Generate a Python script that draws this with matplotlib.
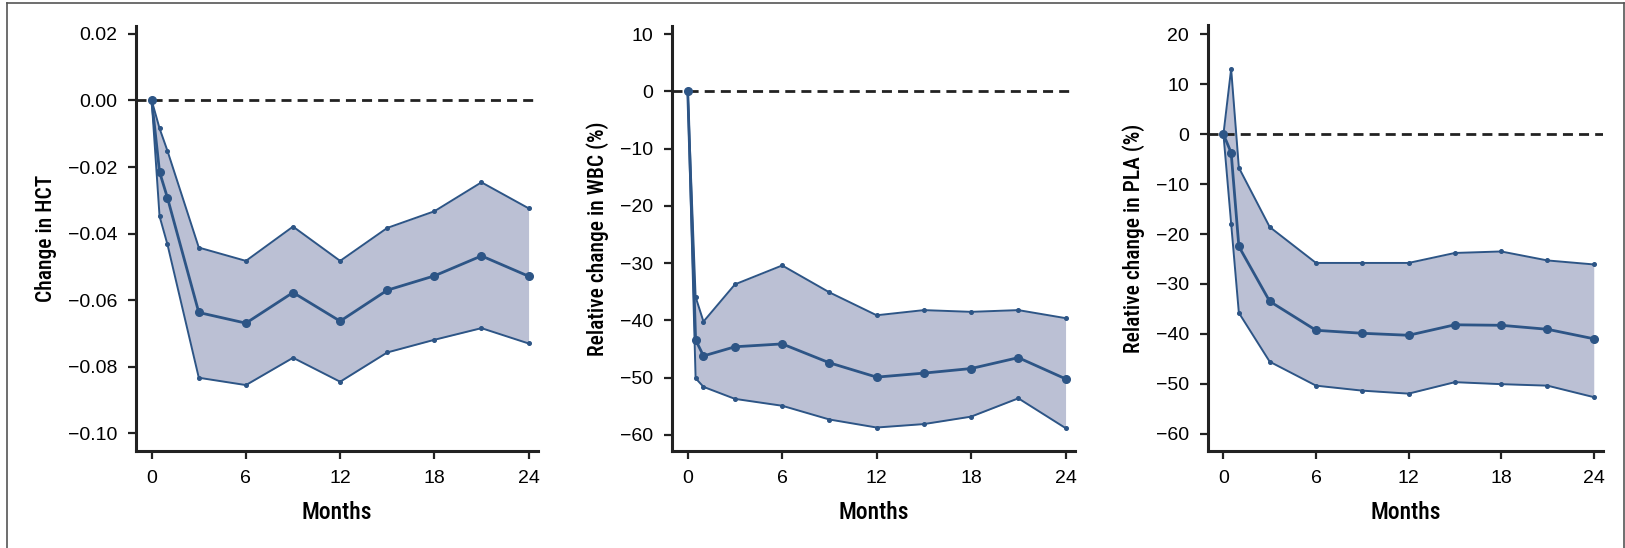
import numpy as np
import matplotlib.pyplot as plt
from matplotlib.lines import Line2D
from matplotlib import font_manager

# 时间点（月）
months = [0, 0.5, 1, 3, 6, 9, 12, 15, 18, 21, 24]

# HCT 变化
hct_mean = [0, -0.0215, -0.0292, -0.0637, -0.0669, -0.0577, -0.0663, -0.0570, -0.0527, -0.0467, -0.0528]
hct_upper = [0, -0.0084, -0.0151, -0.0442, -0.0482, -0.0379, -0.0482, -0.0383, -0.0333, -0.0246, -0.0324]
hct_lower = [0, -0.0348, -0.0432, -0.0833, -0.0855, -0.0773, -0.0845, -0.0757, -0.0719, -0.0684, -0.0730]

# WBC 相对变化 (%)
wbc_mean = [0, -43.4, -46.2, -44.6, -44.1, -47.4, -49.9, -49.2, -48.4, -46.5, -50.2]
wbc_upper = [0, -35.9, -40.2, -33.7, -30.4, -35.1, -39.1, -38.2, -38.5, -38.2, -39.6]
wbc_lower = [0, -50.1, -51.6, -53.7, -54.9, -57.3, -58.7, -58.1, -56.8, -53.6, -58.8]

# PLA 相对变化 (%)
pla_mean = [0, -3.7, -22.5, -33.5, -39.3, -39.9, -40.3, -38.2, -38.3, -39.1, -41.0]
pla_upper = [0, 13.1, -6.7, -18.6, -25.8, -25.8, -25.8, -23.8, -23.5, -25.3, -26.1]
pla_lower = [0, -17.9, -35.8, -45.6, -50.4, -51.4, -52.0, -49.7, -50.1, -50.4, -52.7]

line_color = '#2d5586'
fill_color = '#bbc0d4'
tick_font = ['Liberation Sans', 'DejaVu Sans']

# 找一个窄体字体给坐标轴标题用
installed = {f.name for f in font_manager.fontManager.ttflist}
narrow = [n for n in ['Liberation Sans Narrow', 'Roboto Condensed', 'Open Sans Condensed',
                      'DejaVu Sans Condensed'] if n in installed]
label_font = narrow + ['DejaVu Sans']

panels = [
    (hct_mean, hct_upper, hct_lower, 'Change in HCT',
     (-0.1053, 0.0225), np.arange(-0.10, 0.021, 0.02), '{:.2f}'),
    (wbc_mean, wbc_upper, wbc_lower, 'Relative change in WBC (%)',
     (-62.8, 11.5), np.arange(-60, 11, 10), '{:.0f}'),
    (pla_mean, pla_upper, pla_lower, 'Relative change in PLA (%)',
     (-63.5, 21.8), np.arange(-60, 21, 10), '{:.0f}'),
]
# 每个子图的位置（像素）：左、右
px_lr = [(136, 538), (672, 1075), (1208, 1603)]
top_px, bot_px = 25.5, 451
W, H = 1625, 548

fig = plt.figure(figsize=(W / 100, H / 100), dpi=100)

for (mean, upper, lower, ylab, ylim, yticks, fmt), (l, r) in zip(panels, px_lr):
    ax = fig.add_axes([l / W, 1 - bot_px / H, (r - l) / W, (bot_px - top_px) / H])
    ax.fill_between(months, lower, upper, color=fill_color, lw=0)
    ax.axhline(0, color='#222222', lw=2, ls=(0, (3.6, 2.2)), zorder=1)
    ax.plot(months, upper, color=line_color, lw=1.4, marker='o', ms=2.6, zorder=3)
    ax.plot(months, lower, color=line_color, lw=1.4, marker='o', ms=2.6, zorder=3)
    ax.plot(months, mean, color=line_color, lw=2, marker='o', ms=5.5, zorder=4)
    ax.set_xlim(-1.0, 24.6)
    ax.set_ylim(*ylim)
    ax.set_xticks([0, 6, 12, 18, 24])
    ax.set_yticks(yticks)
    ax.set_yticklabels([fmt.format(v).replace('-', '\u2212') for v in yticks])
    for s in ['top', 'right']:
        ax.spines[s].set_visible(False)
    for s in ['left', 'bottom']:
        ax.spines[s].set_linewidth(2.2)
        ax.spines[s].set_color('#222222')
    ax.tick_params(width=1.6, length=6, labelsize=14, color='#222222')
    ax.tick_params(axis='x', pad=8)
    ax.tick_params(axis='y', pad=7.5)
    for t in ax.get_xticklabels() + ax.get_yticklabels():
        t.set_family(tick_font)
    ax.set_xlabel('Months', fontsize=17, family=label_font, fontstretch='condensed',
                  fontweight='medium', labelpad=10)
    ax.set_ylabel(ylab, fontsize=15.5, family=label_font, fontstretch='condensed',
                  fontweight='medium', labelpad=8)

# 外边框
fig.add_artist(Line2D([7 / W, 7 / W], [0, 1 - 3 / H], color='#555555', lw=1.2))
fig.add_artist(Line2D([7 / W, 1 - 1 / W], [1 - 3 / H, 1 - 3 / H], color='#555555', lw=1.2))
fig.add_artist(Line2D([1 - 1 / W, 1 - 1 / W], [0, 1 - 3 / H], color='#555555', lw=1.2))

fig.savefig('out.png', dpi=100)
